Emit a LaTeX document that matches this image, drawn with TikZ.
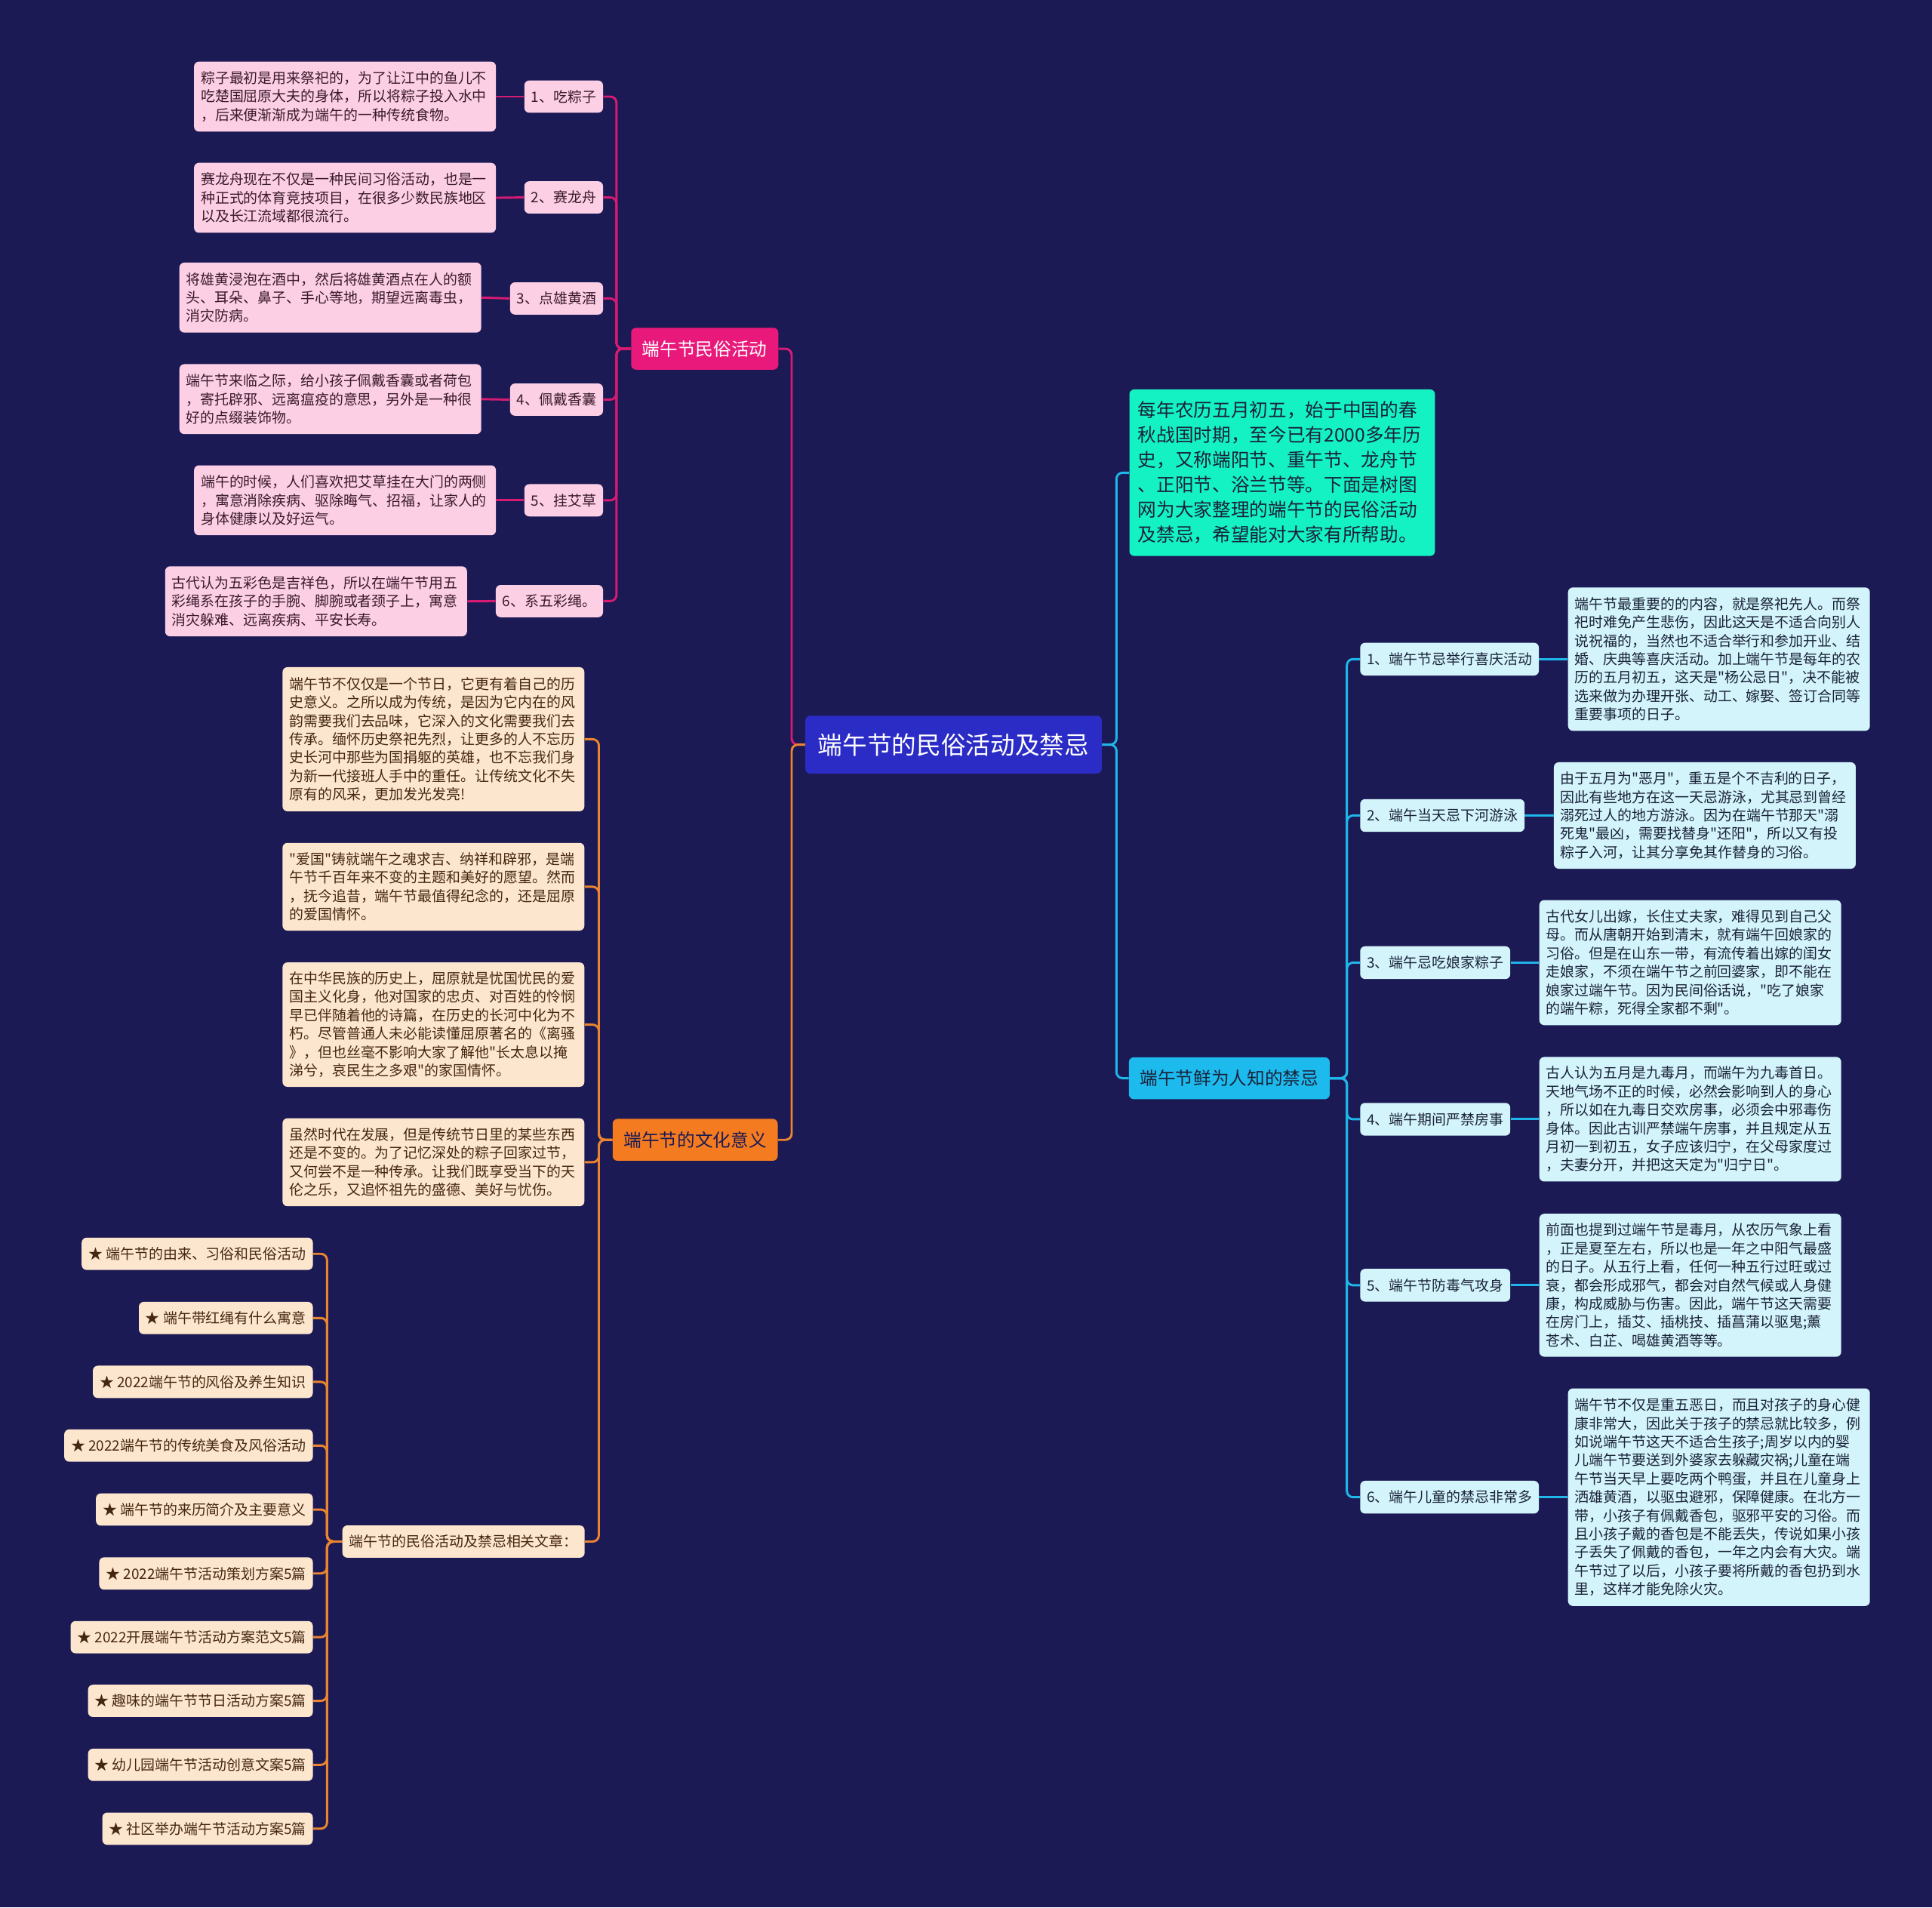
\documentclass[tikz,border=0pt]{standalone}
\usepackage{fontspec}
\defaultfontfeatures[\rmfamily]{}
\setmainfont{Noto Sans CJK SC}
\newfontfamily\cjk{Noto Sans CJK SC}
\definecolor{bg}{HTML}{1B1A54}
\definecolor{pinkC}{HTML}{E8197A}
\definecolor{pinkL}{HTML}{FCCFE5}
\definecolor{pinkLine}{HTML}{D81B72}
\definecolor{txtP}{HTML}{3A1A2C}
\definecolor{oraC}{HTML}{F47B20}
\definecolor{oraL}{HTML}{FDE6CE}
\definecolor{oraLine}{HTML}{EB8430}
\definecolor{txtO}{HTML}{45270F}
\definecolor{cenC}{HTML}{2B2BC6}
\definecolor{tealC}{HTML}{14F2C4}
\definecolor{cyanC}{HTML}{1DBAEE}
\definecolor{cyanL}{HTML}{D3F4FB}
\definecolor{cyanLine}{HTML}{1FB6EA}
\definecolor{txtC}{HTML}{1A2238}
\begin{document}
\begin{tikzpicture}[x=1pt,y=-1pt,
  smallf/.style={font=\cjk\fontsize{11.6}{14.95}\selectfont},
  boxbase/.style={rounded corners=4pt, inner xsep=5.5pt, inner ysep=0pt, align=left, smallf},
  plabel/.style={boxbase, fill=pinkL, text=txtP, minimum height=26.2pt},
  pleaf/.style={boxbase, fill=pinkL, text=txtP, text width=234pt},
  oleaf/.style={boxbase, fill=oraL, text=txtO, text width=234pt},
  olink/.style={boxbase, fill=oraL, text=txtO, minimum height=26.2pt},
  clabel/.style={boxbase, fill=cyanL, text=txtC, minimum height=26.6pt},
  cleaf/.style={boxbase, fill=cyanL, text=txtC, text width=234pt},
  catbox/.style={rounded corners=4pt, inner xsep=9pt, inner ysep=0pt, minimum height=34pt, font=\cjk\fontsize{14.5}{17}\selectfont},
  pline/.style={draw=pinkLine, line width=1.8pt, rounded corners=5pt},
  oline/.style={draw=oraLine, line width=1.8pt, rounded corners=5pt},
  cline/.style={draw=cyanLine, line width=1.8pt, rounded corners=5pt}
]
\fill[bg] (0,0) rectangle (1568,1548);

% ---------- central ----------
\node[rounded corners=4pt, fill=cenC, text=white, anchor=west, minimum width=240.6pt, minimum height=47pt, inner xsep=10pt, font=\cjk\fontsize{20}{24}\selectfont] (center) at (653.4,604.3) {端午节的民俗活动及禁忌};

% ---------- pink branch ----------
\node[catbox, fill=pinkC, text=white, anchor=west] (cp) at (512,283) {端午节民俗活动};

\node[plabel, anchor=east] (l1) at (489.6,78.4) {1、吃粽子};
\node[plabel, anchor=east] (l2) at (489.6,160.2) {2、赛龙舟};
\node[plabel, anchor=east] (l3) at (489.6,242.2) {3、点雄黄酒};
\node[plabel, anchor=east] (l4) at (489.6,324.3) {4、佩戴香囊};
\node[plabel, anchor=east] (l5) at (489.6,406.0) {5、挂艾草};
\node[plabel, anchor=east] (l6) at (489.6,487.8) {6、系五彩绳。};

\node[pleaf, anchor=east, minimum height=56.8pt] (p1) at (402.7,78.4) {粽子最初是用来祭祀的，为了让江中的鱼儿不\\吃楚国屈原大夫的身体，所以将粽子投入水中\\，后来便渐渐成为端午的一种传统食物。};
\node[pleaf, anchor=east, minimum height=56.8pt] (p2) at (402.7,160.5) {赛龙舟现在不仅是一种民间习俗活动，也是一\\种正式的体育竞技项目，在很多少数民族地区\\以及长江流域都很流行。};
\node[pleaf, anchor=east, minimum height=56.8pt] (p3) at (390.8,241.5) {将雄黄浸泡在酒中，然后将雄黄酒点在人的额\\头、耳朵、鼻子、手心等地，期望远离毒虫，\\消灾防病。};
\node[pleaf, anchor=east, minimum height=56.8pt] (p4) at (390.8,323.9) {端午节来临之际，给小孩子佩戴香囊或者荷包\\，寄托辟邪、远离瘟疫的意思，另外是一种很\\好的点缀装饰物。};
\node[pleaf, anchor=east, minimum height=56.8pt] (p5) at (402.7,406.0) {端午的时候，人们喜欢把艾草挂在大门的两侧\\，寓意消除疾病、驱除晦气、招福，让家人的\\身体健康以及好运气。};
\node[pleaf, anchor=east, minimum height=56.8pt] (p6) at (379.2,488.0) {古代认为五彩色是吉祥色，所以在端午节用五\\彩绳系在孩子的手腕、脚腕或者颈子上，寓意\\消灾躲难、远离疾病、平安长寿。};

\coordinate (ps) at (500.3,283);
\foreach \i in {1,...,6}{
  \draw[pline] (p\i.east) -- (l\i.west);
  \draw[pline] (l\i.east) -| (ps) -- (cp.west);
}
\coordinate (ls) at (642.5,604.3);
\draw[pline] (cp.east) -| (ls) -- (center.west);

% ---------- orange branch ----------
\node[catbox, fill=oraC, text=bg, anchor=west] (oc) at (497,925) {端午节的文化意义};

\node[oleaf, anchor=west, minimum height=117pt] (oa) at (229.1,599.9) {端午节不仅仅是一个节日，它更有着自己的历\\史意义。之所以成为传统，是因为它内在的风\\韵需要我们去品味，它深入的文化需要我们去\\传承。缅怀历史祭祀先烈，让更多的人不忘历\\史长河中那些为国捐躯的英雄，也不忘我们身\\为新一代接班人手中的重任。让传统文化不失\\原有的风采，更加发光发亮!};
\node[oleaf, anchor=west, minimum height=71.2pt] (ob) at (229.1,719.6) {"爱国"铸就端午之魂求吉、纳祥和辟邪，是端\\午节千百年来不变的主题和美好的愿望。然而\\，抚今追昔，端午节最值得纪念的，还是屈原\\的爱国情怀。};
\node[oleaf, anchor=west, minimum height=101pt] (oc2) at (229.1,831.5) {在中华民族的历史上，屈原就是忧国忧民的爱\\国主义化身，他对国家的忠贞、对百姓的怜悯\\早已伴随着他的诗篇，在历史的长河中化为不\\朽。尽管普通人未必能读懂屈原著名的《离骚\\》，但也丝毫不影响大家了解他"长太息以掩\\涕兮，哀民生之多艰"的家国情怀。};
\node[oleaf, anchor=west, minimum height=71.4pt] (od) at (229.1,943.2) {虽然时代在发展，但是传统节日里的某些东西\\还是不变的。为了记忆深处的粽子回家过节，\\又何尝不是一种传承。让我们既享受当下的天\\伦之乐，又追怀祖先的盛德、美好与忧伤。};
\node[olink, anchor=east] (rel) at (474.7,1251) {端午节的民俗活动及禁忌相关文章：};

\coordinate (os) at (486,925);
\foreach \n in {oa,ob,oc2,od,rel}{
  \draw[oline] (\n.east) -| (os) -- (oc.west);
}
\draw[oline] (oc.east) -| (ls) -- (center.west);

\node[olink, anchor=east] (k1) at (254.1,1017.5) {★ 端午节的由来、习俗和民俗活动};
\node[olink, anchor=east] (k2) at (254.1,1069.6) {★ 端午带红绳有什么寓意};
\node[olink, anchor=east] (k3) at (254.1,1121.4) {★ 2022端午节的风俗及养生知识};
\node[olink, anchor=east] (k4) at (254.1,1173.1) {★ 2022端午节的传统美食及风俗活动};
\node[olink, anchor=east] (k5) at (254.1,1225.0) {★ 端午节的来历简介及主要意义};
\node[olink, anchor=east] (k6) at (254.1,1276.9) {★ 2022端午节活动策划方案5篇};
\node[olink, anchor=east] (k7) at (254.1,1328.6) {★ 2022开展端午节活动方案范文5篇};
\node[olink, anchor=east] (k8) at (254.1,1380.3) {★ 趣味的端午节节日活动方案5篇};
\node[olink, anchor=east] (k9) at (254.1,1432.2) {★ 幼儿园端午节活动创意文案5篇};
\node[olink, anchor=east] (k10) at (254.1,1484.0) {★ 社区举办端午节活动方案5篇};

\coordinate (rs) at (265.4,1251);
\foreach \i in {1,...,10}{
  \draw[oline] (k\i.east) -| (rs) -- (rel.west);
}

% ---------- right branch ----------
\node[rounded corners=4pt, fill=tealC, text=txtC, anchor=west, text width=234pt, inner xsep=7pt, inner ysep=0pt, minimum height=135.2pt, align=left, font=\cjk\fontsize{15.1}{20.2}\selectfont] (intro) at (916.4,383.6) {每年农历五月初五，始于中国的春\\秋战国时期，至今已有2000多年历\\史，又称端阳节、重午节、龙舟节\\、正阳节、浴兰节等。下面是树图\\网为大家整理的端午节的民俗活动\\及禁忌，希望能对大家有所帮助。};

\node[catbox, fill=cyanC, text=txtC, anchor=west] (cc) at (916,875) {端午节鲜为人知的禁忌};

\coordinate (cs) at (906.1,604.3);
\draw[cline] (center.east) -- (cs) |- (intro.west);
\draw[cline] (center.east) -- (cs) |- (cc.west);

\node[clabel, anchor=west] (i1) at (1103.7,534.9) {1、端午节忌举行喜庆活动};
\node[clabel, anchor=west] (i2) at (1103.7,661.8) {2、端午当天忌下河游泳};
\node[clabel, anchor=west] (i3) at (1103.7,781.2) {3、端午忌吃娘家粽子};
\node[clabel, anchor=west] (i4) at (1103.7,908.3) {4、端午期间严禁房事};
\node[clabel, anchor=west] (i5) at (1103.7,1043.0) {5、端午节防毒气攻身};
\node[clabel, anchor=west] (i6) at (1103.7,1215.0) {6、端午儿童的禁忌非常多};

\node[cleaf, anchor=west, minimum height=116.4pt] (d1) at (1272.4,534.9) {端午节最重要的的内容，就是祭祀先人。而祭\\祀时难免产生悲伤，因此这天是不适合向别人\\说祝福的，当然也不适合举行和参加开业、结\\婚、庆典等喜庆活动。加上端午节是每年的农\\历的五月初五，这天是"杨公忌日"，决不能被\\选来做为办理开张、动工、嫁娶、签订合同等\\重要事项的日子。};
\node[cleaf, anchor=west, minimum height=86.4pt] (d2) at (1260.9,661.8) {由于五月为"恶月"，重五是个不吉利的日子，\\因此有些地方在这一天忌游泳，尤其忌到曾经\\溺死过人的地方游泳。因为在端午节那天"溺\\死鬼"最凶，需要找替身"还阳"，所以又有投\\粽子入河，让其分享免其作替身的习俗。};
\node[cleaf, anchor=west, minimum height=101.5pt] (d3) at (1249.1,781.2) {古代女儿出嫁，长住丈夫家，难得见到自己父\\母。而从唐朝开始到清末，就有端午回娘家的\\习俗。但是在山东一带，有流传着出嫁的闺女\\走娘家，不须在端午节之前回婆家，即不能在\\娘家过端午节。因为民间俗话说，"吃了娘家\\的端午粽，死得全家都不剩"。};
\node[cleaf, anchor=west, minimum height=101.1pt] (d4) at (1249.1,908.3) {古人认为五月是九毒月，而端午为九毒首日。\\天地气场不正的时候，必然会影响到人的身心\\，所以如在九毒日交欢房事，必须会中邪毒伤\\身体。因此古训严禁端午房事，并且规定从五\\月初一到初五，女子应该归宁，在父母家度过\\，夫妻分开，并把这天定为"归宁日"。};
\node[cleaf, anchor=west, minimum height=116pt] (d5) at (1249.1,1043.0) {前面也提到过端午节是毒月，从农历气象上看\\，正是夏至左右，所以也是一年之中阳气最盛\\的日子。从五行上看，任何一种五行过旺或过\\衰，都会形成邪气，都会对自然气候或人身健\\康，构成威胁与伤害。因此，端午节这天需要\\在房门上，插艾、插桃技、插菖蒲以驱鬼;薰\\苍术、白芷、喝雄黄酒等等。};
\node[cleaf, anchor=west, minimum height=176.6pt] (d6) at (1272.4,1215.0) {端午节不仅是重五恶日，而且对孩子的身心健\\康非常大，因此关于孩子的禁忌就比较多，例\\如说端午节这天不适合生孩子;周岁以内的婴\\儿端午节要送到外婆家去躲藏灾祸;儿童在端\\午节当天早上要吃两个鸭蛋，并且在儿童身上\\洒雄黄酒，以驱虫避邪，保障健康。在北方一\\带，小孩子有佩戴香包，驱邪平安的习俗。而\\且小孩子戴的香包是不能丢失，传说如果小孩\\子丢失了佩戴的香包，一年之内会有大灾。端\\午节过了以后，小孩子要将所戴的香包扔到水\\里，这样才能免除火灾。};

\coordinate (qs) at (1093.1,875);
\foreach \i in {1,...,6}{
  \draw[cline] (cc.east) -- (qs) |- (i\i.west);
  \draw[cline] (i\i.east) -- (d\i.west);
}
\end{tikzpicture}
\end{document}
